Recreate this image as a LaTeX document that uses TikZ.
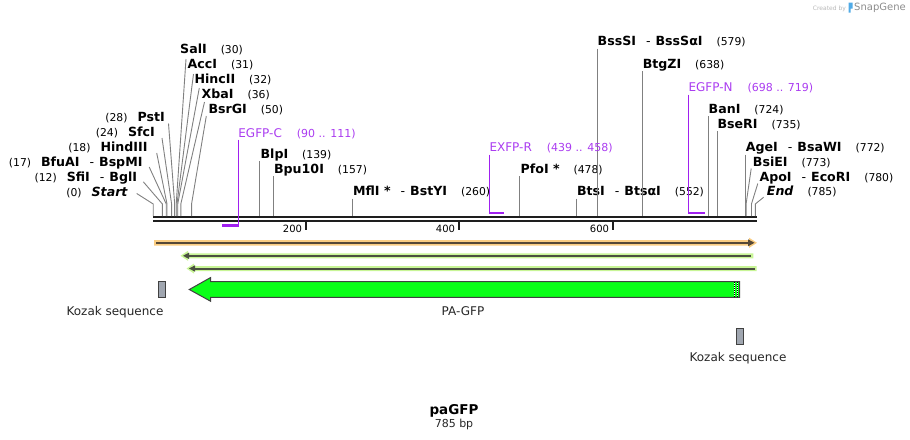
\documentclass[tikz,border=0pt]{standalone}
\usepackage{fontspec}
\setmainfont{DejaVu Sans}
\usetikzlibrary{calc}
\definecolor{sitegray}{RGB}{128,128,128}
\definecolor{bbk}{RGB}{30,30,30}
\definecolor{prim}{RGB}{160,32,240}
\definecolor{primtxt}{RGB}{170,60,240}
\definecolor{orhalo}{RGB}{250,205,130}
\definecolor{ordark}{RGB}{85,72,55}
\definecolor{grhalo}{RGB}{200,245,150}
\definecolor{grdark}{RGB}{75,80,65}
\definecolor{gfp}{RGB}{10,255,24}
\definecolor{kozak}{RGB}{160,166,176}
\definecolor{outl}{RGB}{65,65,65}
\definecolor{sgblue}{RGB}{80,170,230}
\newcommand\numtxt[1]{{\fontsize{10.8}{13}\selectfont\mdseries\upshape #1}}
\newcommand\dashsep{{\mdseries\hspace{10pt}-\hspace{5pt}}}
\newcommand\ngap{\hspace{14pt}}
\begin{document}
\begin{tikzpicture}[x=1pt,y=-1pt,
  lab/.style={inner sep=0pt, anchor=base west, font=\fontsize{12.6}{15}\selectfont\bfseries},
  labr/.style={lab, anchor=base east},
  site/.style={draw=sitegray, line width=0.9pt},
  plab/.style={inner sep=0pt, anchor=base west, text=primtxt, font=\fontsize{12}{14}\selectfont},
  pline/.style={draw=prim, line width=1.3pt},
  pbar/.style={draw=prim, line width=2.3pt},
  ftxt/.style={inner sep=0pt, anchor=base, font=\fontsize{12}{14}\selectfont, text=black!85},
  tick/.style={draw=bbk, line width=1.8pt},
  ticklab/.style={inner sep=0pt, anchor=base east, font=\fontsize{10}{12}\selectfont}
]
\useasboundingbox (0,0) rectangle (910,439);

% ---------- backbone ----------
\coordinate (bbL) at (153,217);
\coordinate (bbR) at (757,217);
\draw[line width=2.3pt, bbk] (bbL) -- (bbR);
\draw[line width=2.3pt, bbk] ($(bbL)+(0,4.3)$) -- ($(bbR)+(0,4.3)$);

% ---------- ruler ----------
\foreach \v/\x in {200/305.7, 400/458.7, 600/612.7}{
  \coordinate (t\v) at (\x,222);
  \draw[tick] (t\v) -- ++(0,8);
  \node[ticklab] (tl\v) at (\x-3.5,232.5) {\v};
}

% ---------- site coordinates ----------
\foreach \n/\b in {Start/0, SfiI/12, BfuAI/17, HindIII/18, SfcI/24, PstI/28, SalI/30, AccI/31, HincII/32, XbaI/36, BsrGI/50, BlpI/139, Bpu/157, MflI/260, PfoI/478, BtsI/552, BssSI/579, BtgZI/638, BanI/724, BseRI/735, AgeI/772, BsiEI/773, ApoI/780, End/785}{
  \coordinate (s\n) at ({153.2+0.767*\b},216);
}

% ---------- left labels ----------
\node[labr] (lPstI) at (165,121.5) {\numtxt{(28)}\hspace{10pt}PstI};
\node[labr] (lSfcI) at (155,136.5) {\numtxt{(24)}\hspace{10pt}SfcI};
\node[labr] (lHindIII) at (147.7,151.5) {\numtxt{(18)}\hspace{10pt}HindIII};
\node[labr] (lBfuAI) at (142.7,166.5) {\numtxt{(17)}\hspace{10pt}BfuAI\dashsep BspMI};
\node[labr] (lSfiI) at (137.3,181.3) {\numtxt{(12)}\hspace{10pt}SfiI\dashsep BglI};
\node[labr] (lStart) at (127.7,196) {\numtxt{(0)}\hspace{10pt}\itshape Start};

\draw[site] ($(lPstI.base east)+(3.5,2)$) -- ($(sPstI)+(0,-12)$) -- (sPstI);
\draw[site] ($(lSfcI.base east)+(7,1.5)$) -- ($(sSfcI)+(0,-12)$) -- (sSfcI);
\draw[site] ($(lHindIII.base east)+(9,1.5)$) -- ($(sHindIII)+(0,-12)$) -- (sHindIII);
\draw[site] ($(lBfuAI.base east)+(6.5,0.5)$) -- ($(sBfuAI)+(0,-12)$) -- (sBfuAI);
\draw[site] ($(lSfiI.base east)+(6,0.5)$) -- ($(sSfiI)+(0,-12)$) -- (sSfiI);
\draw[site] ($(lStart.base east)+(9,-2.5)$) -- ($(sStart)+(0,-12)$) -- (sStart);

% ---------- upper-left cluster ----------
\node[lab] (lSalI) at (180,53) {SalI\ngap\numtxt{(30)}};
\node[lab] (lAccI) at (187.5,68) {AccI\ngap\numtxt{(31)}};
\node[lab] (lHincII) at (194.3,83) {HincII\ngap\numtxt{(32)}};
\node[lab] (lXbaI) at (201.5,98) {XbaI\ngap\numtxt{(36)}};
\node[lab] (lBsrGI) at (208.3,113) {BsrGI\ngap\numtxt{(50)}};
\draw[site] ($(lSalI.base west)+(6,6)$) -- ($(sSalI)+(0,-12)$) -- (sSalI);
\draw[site] ($(lAccI.base west)+(6,6)$) -- ($(sAccI)+(0,-12)$) -- (sAccI);
\draw[site] ($(lHincII.base west)+(5,5)$) -- ($(sHincII)+(0,-12)$) -- (sHincII);
\draw[site] ($(lXbaI.base west)+(3,4)$) -- ($(sXbaI)+(0,-12)$) -- (sXbaI);
\draw[site] ($(lBsrGI.base west)+(-2,3)$) -- ($(sBsrGI)+(0,-12)$) -- (sBsrGI);

% ---------- middle labels ----------
\node[lab] (lBlpI) at ($(sBlpI|-0,158)+(0.6,0)$) {BlpI\ngap\numtxt{(139)}};
\node[lab] (lBpu) at ($(sBpu|-0,173.3)+(0.3,0)$) {Bpu10I\ngap\numtxt{(157)}};
\node[lab] (lMflI) at ($(sMflI|-0,195.7)+(0.3,0)$) {MflI *\dashsep BstYI\ngap\numtxt{(260)}};
\node[lab] (lPfoI) at ($(sPfoI|-0,173.3)+(0.6,0)$) {PfoI *\ngap\numtxt{(478)}};
\node[lab] (lBtsI) at ($(sBtsI|-0,195.7)+(0.3,0)$) {BtsI\dashsep BtsαI\ngap\numtxt{(552)}};
\node[lab] (lBssSI) at ($(sBssSI|-0,45.7)+(0.2,0)$) {BssSI\dashsep BssSαI\ngap\numtxt{(579)}};
\node[lab] (lBtgZI) at ($(sBtgZI|-0,68.3)+(0,0)$) {BtgZI\ngap\numtxt{(638)}};
\node[lab] (lBanI) at ($(sBanI|-0,113.3)+(0,0)$) {BanI\ngap\numtxt{(724)}};
\node[lab] (lBseRI) at ($(sBseRI|-0,128.3)+(0.4,0)$) {BseRI\ngap\numtxt{(735)}};
\node[lab] (lAgeI) at ($(sAgeI|-0,151.7)+(0.4,0)$) {AgeI\dashsep BsaWI\ngap\numtxt{(772)}};
\foreach \n in {BlpI,Bpu,MflI,PfoI,BtsI,BssSI,BtgZI,BanI,BseRI,AgeI}{
  \draw[site] (s\n|-l\n.base) ++(0,3) -- (s\n);
}

% ---------- right cluster ----------
\node[lab] (lBsiEI) at (752.7,166) {BsiEI\ngap\numtxt{(773)}};
\node[lab] (lApoI) at (759.3,181) {ApoI\dashsep EcoRI\ngap\numtxt{(780)}};
\node[lab] (lEnd) at (766.7,195.7) {\itshape End\ngap\numtxt{(785)}};
\draw[site] ($(lBsiEI.base west)+(-1.5,2.5)$) -- ($(sBsiEI)+(0,-12)$) -- (sBsiEI);
\draw[site] ($(lApoI.base west)+(-1.5,2.5)$) -- ($(sApoI)+(0,-12)$) -- (sApoI);
\draw[site] ($(lEnd.base west)+(-3,1.5)$) -- ($(sEnd)+(0,-12)$) -- (sEnd);

% ---------- primers ----------
\node[plab] (pC) at (238.2,137) {EGFP-C\hspace{15pt}{\fontsize{11}{13}\selectfont(90 .. 111)}};
\coordinate (pC1) at ({153.2+0.767*90},225.5);
\coordinate (pC2) at (238.2,225.5);
\draw[pline] ($(pC.base west)+(0,2.5)$) -- (pC2);
\draw[pbar] ($(pC2)+(0.65,0)$) -- (pC1);

\node[plab] (pR) at (489.3,151.5) {EXFP-R\hspace{15pt}{\fontsize{11}{13}\selectfont(439 .. 458)}};
\coordinate (pR1) at (489.5,212.7);
\coordinate (pR2) at ({153.2+0.767*458},212.7);
\draw[pline] ($(pR.base west)+(0.2,3)$) -- (pR1);
\draw[pbar] ($(pR1)+(-0.65,0)$) -- (pR2);

\node[plab] (pN) at (688.3,91.7) {EGFP-N\hspace{15pt}{\fontsize{11}{13}\selectfont(698 .. 719)}};
\coordinate (pN1) at (688.5,212.7);
\coordinate (pN2) at ({153.2+0.767*719},212.7);
\draw[pline] ($(pN.base west)+(0.2,3)$) -- (pN1);
\draw[pbar] ($(pN1)+(-0.65,0)$) -- (pN2);

% ---------- orange feature ----------
\fill[orhalo] (154,240) -- (749,240) -- (749,237.7) -- (757,242.8) -- (749,248) -- (749,245.7) -- (154,245.7) -- cycle;
\draw[ordark, line width=2pt] (156,242.8) -- (749,242.8);
\fill[ordark] (754.5,242.8) -- (748,239.3) -- (748,246.3) -- cycle;

% ---------- green features ----------
\fill[grhalo] (180.5,255.8) -- (188,250.8) -- (188,253.3) -- (753.3,253.3) -- (753.3,258.3) -- (188,258.3) -- (188,260.8) -- cycle;
\draw[grdark, line width=2pt] (187,255.8) -- (751,255.8);
\fill[grdark] (183,255.8) -- (189,252.6) -- (189,259) -- cycle;

\fill[grhalo] (186.5,268.5) -- (194,263.5) -- (194,266) -- (756.7,266) -- (756.7,271) -- (194,271) -- (194,273.5) -- cycle;
\draw[grdark, line width=2pt] (193,268.5) -- (755,268.5);
\fill[grdark] (189,268.5) -- (195,265.3) -- (195,271.7) -- cycle;

% ---------- PA-GFP arrow ----------
\draw[fill=gfp, draw=outl, line width=1pt] (189.3,289.5) -- (210.7,277.5) -- (210.7,281.7) -- (739.7,281.7) -- (739.7,297.3) -- (210.7,297.3) -- (210.7,301.3) -- cycle;
\foreach \x in {734.6,737.6}{
  \draw[white, line width=1pt] (\x,282.2) -- (\x,296.8);
  \draw[black, line width=1pt, dash pattern=on 1pt off 1pt] (\x,282.2) -- (\x,296.8);
}
\node[ftxt] (fPA) at (463,315.3) {PA-GFP};

% ---------- Kozak boxes ----------
\draw[fill=kozak, draw=outl, line width=0.9pt] (158.3,281.7) rectangle (165.7,297.3);
\node[ftxt] (fK1) at (115,315.3) {Kozak sequence};
\draw[fill=kozak, draw=outl, line width=0.9pt] (736.7,328.3) rectangle (743.3,344.3);
\node[ftxt] (fK2) at (738,361.5) {Kozak sequence};

% ---------- title ----------
\node[inner sep=0pt, anchor=base, font=\fontsize{13.5}{16}\selectfont\bfseries] (title) at (454,414) {paGFP};
\node[inner sep=0pt, anchor=base, font=\fontsize{11}{13}\selectfont, text=black!85] (bp) at (454,427) {785 bp};

% ---------- SnapGene mark ----------
\node[inner sep=0pt, anchor=base west, text=black!28, font=\fontsize{6}{7}\selectfont] (cr) at (812.7,10) {Created by};
\fill[sgblue] (848.5,2.5) -- (852.7,2.5) -- (852.7,8.5) -- (850.5,8.5) -- (850.5,12.5) -- (848.5,12.5) -- cycle;
\node[inner sep=0pt, anchor=base west, text=black!45, font=\fontsize{10}{12}\selectfont] (sg) at (854,10.5) {SnapGene};
\end{tikzpicture}
\end{document}
